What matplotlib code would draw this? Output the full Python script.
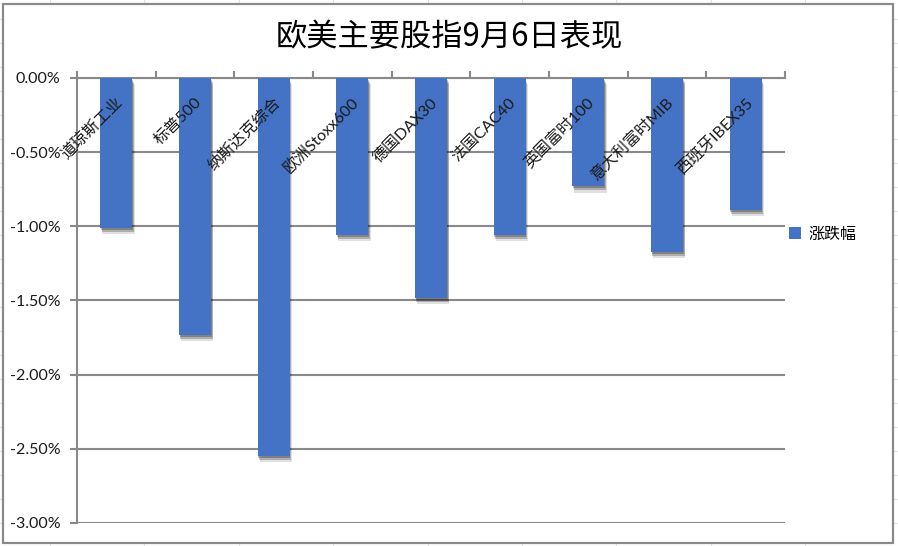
import matplotlib
matplotlib.use('Agg')
import matplotlib.pyplot as plt
import matplotlib.patheffects as pe
from matplotlib.lines import Line2D
from matplotlib.patches import Rectangle, Patch
from matplotlib.ticker import FuncFormatter, FixedLocator

# Data (percent change, 9月6日)
indices = ["道琼斯工业", "标普500", "纳斯达克综合", "欧洲Stoxx600", "德国DAX30",
           "法国CAC40", "英国富时100", "意大利富时MIB", "西班牙IBEX35"]
changes = [-1.01, -1.73, -2.55, -1.06, -1.48, -1.06, -0.73, -1.17, -0.89]
y_ticks = [0.0, -0.5, -1.0, -1.5, -2.0, -2.5, -3.0]

title = "欧美主要股指9月6日表现"
series_name = "涨跌幅"

BAR_COLOR = '#4472C4'
GRID_COLOR = '#898989'
LATIN_CJK = ['Lato', 'Noto Sans CJK SC', 'DejaVu Sans']
CJK = ['Noto Sans CJK SC', 'DejaVu Sans']

W, H = 898, 546
fig = plt.figure(figsize=(W / 100, H / 100), dpi=100, facecolor='white')


def fx(px):
    return px / W


def fy(py):
    return 1 - py / H


# Faint spreadsheet cell grid behind the chart object
for k in range(10):
    x = fx(50 + 94.4 * k)
    fig.add_artist(Line2D([x, x], [0, 1], color='#e3e3e3', lw=0.8, zorder=0))
for k in range(23):
    y = fy(19 + 24 * k)
    fig.add_artist(Line2D([0, 1], [y, y], color='#e3e3e3', lw=0.8, zorder=0))

# Chart object frame
fig.add_artist(Rectangle((fx(3), fy(543)), fx(893) - fx(3), fy(4) - fy(543),
                         facecolor='white', edgecolor='#8a8a8a', lw=1.6, zorder=1))

ax = fig.add_axes([fx(77), fy(523), fx(785) - fx(77), fy(78) - fy(523)], zorder=2)
ax.set_facecolor('none')

pos = list(range(len(indices)))
bars = ax.bar(pos, changes, width=0.41, color=BAR_COLOR, zorder=3)
# soft drop shadow, layered to fake a blur
for b in bars:
    b.set_path_effects([
        pe.SimplePatchShadow(offset=(1.5, -4.5), shadow_rgbFace='black', alpha=0.12),
        pe.SimplePatchShadow(offset=(1.0, -3.0), shadow_rgbFace='black', alpha=0.22),
        pe.SimplePatchShadow(offset=(0.5, -1.5), shadow_rgbFace='black', alpha=0.25),
        pe.Normal()])

ax.set_xlim(-0.5, len(indices) - 0.5)
ax.set_ylim(-3.0, 0.0)
ax.yaxis.set_major_locator(FixedLocator(y_ticks))
ax.yaxis.set_major_formatter(FuncFormatter(lambda v, _: f"{v:.2f}%" if abs(v) > 1e-9 else "0.00%"))
ax.grid(axis='y', color=GRID_COLOR, lw=1.5, zorder=1)
ax.set_axisbelow(True)

# Category axis sits at the zero line (top)
ax.xaxis.tick_top()
ax.set_xticks([i - 0.5 for i in range(len(indices) + 1)])
ax.set_xticklabels([])
ax.tick_params(axis='x', direction='out', length=5, width=1.5, color=GRID_COLOR)
ax.tick_params(axis='y', direction='out', length=5, width=1.5, color=GRID_COLOR,
               pad=7, labelsize=11.5, labelcolor='#1a1a1a')
for lab in ax.get_yticklabels():
    lab.set_family(LATIN_CJK)

for side in ['right', 'bottom']:
    ax.spines[side].set_visible(False)
for side in ['left', 'top']:
    ax.spines[side].set_color(GRID_COLOR)
    ax.spines[side].set_linewidth(1.5)

# Rotated category labels just under the zero line
for i, name in enumerate(indices):
    ax.annotate(name, xy=(i, 0), xytext=(3, -16), textcoords='offset points',
                rotation=45, rotation_mode='anchor', ha='right', va='center',
                fontsize=11.5, family=LATIN_CJK, color='#1a1a1a', zorder=5)

fig.text(0.5, fy(37), title, ha='center', va='center', fontsize=22.5,
         family=CJK, color='black')

fig.legend(handles=[Patch(facecolor=BAR_COLOR, label=series_name)],
           loc='center left', bbox_to_anchor=(fx(775), fy(234)), frameon=False,
           handlelength=0.75, handleheight=0.75, handletextpad=0.45,
           prop={'family': CJK, 'size': 11.5})

fig.savefig('out.png', dpi=100, facecolor='white')
